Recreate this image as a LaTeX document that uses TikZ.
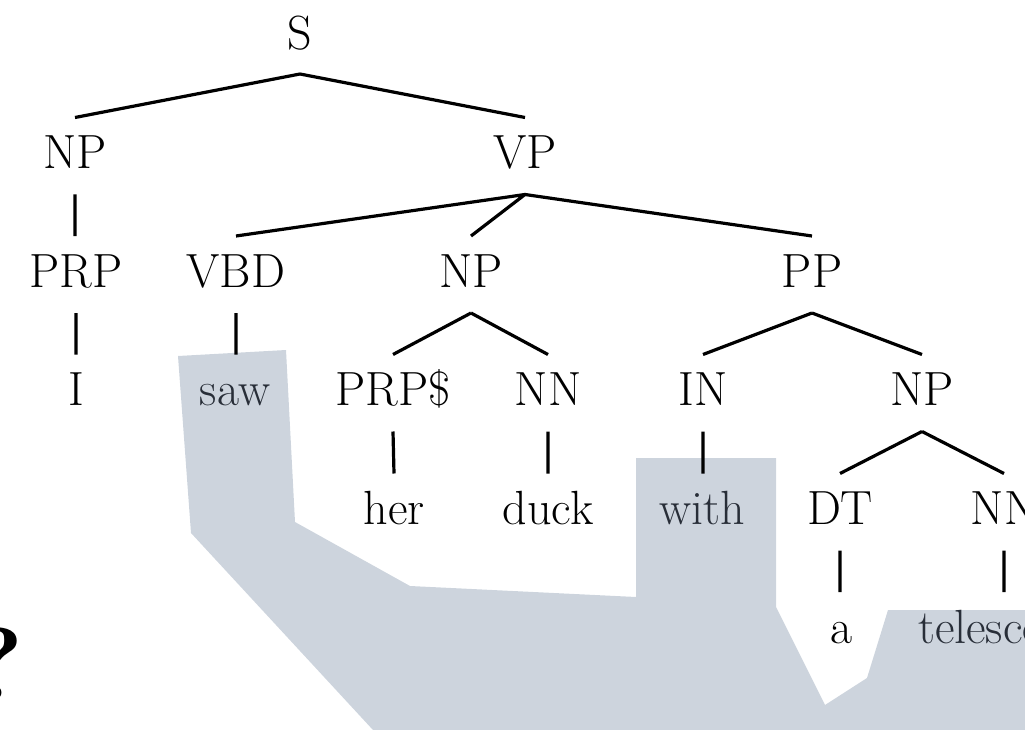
\documentclass[tikz,border=0pt]{standalone}
\usepackage{tikz}
\definecolor{pathgrey}{RGB}{205,212,221}
\definecolor{slate}{RGB}{40,46,56}

\begin{document}
\begin{tikzpicture}[x=1pt, y=-1pt]
	\tikzset{
		tag/.style = {anchor=base, inner sep=0pt, text height=34pt, text depth=0pt, font=\fontsize{48}{56}\selectfont},
		lit/.style = {tag, text=slate},
		branch/.style = {line width=3.2pt}
	}
	\useasboundingbox (0, 0) rectangle (1025, 730);
	\clip (0, 0) rectangle (1025, 730);
	% highlighted path
	\fill[pathgrey] (178, 356) -- (286, 350) -- (295, 522) -- (410, 586) -- (636, 597)
		-- (636, 458) -- (776, 458) -- (776, 607) -- (825, 705) -- (867, 678)
		-- (888, 610) -- (1025, 610) -- (1025, 730) -- (373, 730) -- (191, 533) -- cycle;
	% question mark at the border
	\node[anchor=base, inner sep=0pt, font=\fontsize{104}{104}\selectfont\bfseries] (qm) at (-4, 700) {?};
	% rows
	\node[tag] (s) at (300, 50) {S};
	\node[tag] (np1) at (75, 168.5) {NP};
	\node[tag] (vp) at (525, 168.5) {VP};
	\node[tag] (prp) at (76, 287) {PRP};
	\node[tag] (vbd) at (236, 287) {VBD};
	\node[tag] (np2) at (471, 287) {NP};
	\node[tag] (pp) at (812, 287) {PP};
	\node[tag] (i) at (76, 405.5) {I};
	\node[lit] (saw) at (235, 405.5) {saw};
	\node[tag] (prps) at (393, 405.5) {PRP\$};
	\node[tag] (nn1) at (548, 405.5) {NN};
	\node[tag] (in) at (703, 405.5) {IN};
	\node[tag] (np3) at (922, 405.5) {NP};
	\node[tag] (her) at (394, 524.5) {her};
	\node[tag] (duck) at (548, 524.5) {duck};
	\node[lit] (with) at (702, 524.5) {with};
	\node[tag] (dt) at (840, 524.5) {DT};
	\node[tag] (nn2) at (1004, 524.5) {NN};
	\node[tag] (a) at (842, 643) {a};
	\node[lit] (scope) at (1004, 643) {telescope};
	% branches
	\draw[branch]
	([yshift=-24pt]s.base) -- ([yshift=51pt]np1.base)
	([yshift=-24pt]s.base) -- ([yshift=51pt]vp.base)
	([yshift=-26pt]np1.base) -- ([yshift=51pt]np1.base |- prp.base)
	([yshift=-26pt]vp.base) -- ([yshift=51pt]vbd.base)
	([yshift=-26pt]vp.base) -- ([yshift=51pt]np2.base)
	([yshift=-26pt]vp.base) -- ([yshift=51pt]pp.base)
	([yshift=-26pt]prp.base) -- ([yshift=51pt]i.base)
	([yshift=-26pt]vbd.base) -- ([yshift=51pt]vbd.base |- saw.base)
	([yshift=-26pt]np2.base) -- ([yshift=51pt]prps.base)
	([yshift=-26pt]np2.base) -- ([yshift=51pt]nn1.base)
	([yshift=-26pt]pp.base) -- ([yshift=51pt]in.base)
	([yshift=-26pt]pp.base) -- ([yshift=51pt]np3.base)
	([yshift=-26pt]prps.base) -- ([yshift=51pt]her.base)
	([yshift=-26pt]nn1.base) -- ([yshift=51pt]duck.base)
	([yshift=-26pt]in.base) -- ([yshift=51pt]in.base |- with.base)
	([yshift=-26pt]np3.base) -- ([yshift=51pt]dt.base)
	([yshift=-26pt]np3.base) -- ([yshift=51pt]nn2.base)
	([yshift=-26pt]dt.base) -- ([yshift=51pt]dt.base |- a.base)
	([yshift=-26pt]nn2.base) -- ([yshift=51pt]scope.base)
	;
\end{tikzpicture}
\end{document}
